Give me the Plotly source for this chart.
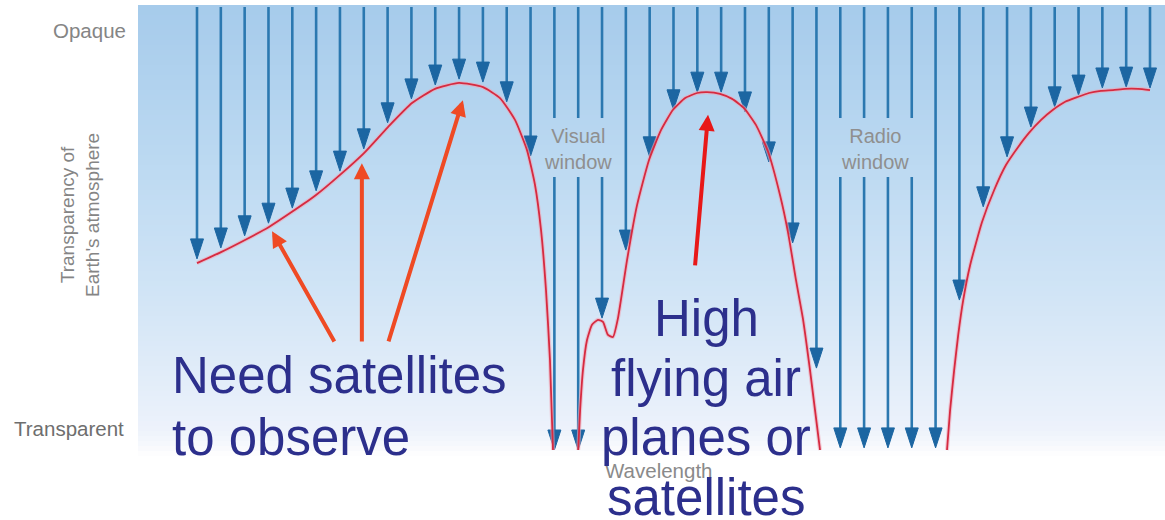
import plotly.graph_objects as go
import numpy as np

# ---------------- data ----------------
# incoming radiation arrows: index along wavelength axis, and depth reached (0 = ground / transparent, 1 = opaque)
arrow_idx = list(range(41))
arrow_depth = [0.455, 0.481, 0.510, 0.540, 0.576, 0.617, 0.664, 0.717, 0.779, 0.836,
               0.869, 0.883, 0.876, 0.829, 0.700, 0.0, 0.0, 0.314, 0.476, 0.698,
               0.810, 0.852, 0.852, 0.805, 0.686, 0.493, 0.195, 0.005, 0.005, 0.005,
               0.005, 0.005, 0.357, 0.579, 0.698, 0.769, 0.817, 0.845, 0.862, 0.864, 0.862]
window_gap_idx = [15, 16, 17, 27, 28, 29, 30]   # arrows interrupted by the window labels

# transparency curve (three segments), x in wavelength-index units, y in opacity units
curve1_x = [0.0, 1.007, 2.015, 3.022, 3.987, 4.995, 6.002, 7.009, 8.017, 9.024, 9.990,
            10.997, 12.004, 12.718, 13.347, 13.851, 14.187, 14.439, 14.648, 14.816, 14.942]
curve1_y = [0.445, 0.471, 0.500, 0.531, 0.567, 0.607, 0.655, 0.707, 0.769, 0.826, 0.860,
            0.874, 0.864, 0.838, 0.786, 0.714, 0.631, 0.524, 0.381, 0.214, 0.0]
curve2_x = [16.0, 16.08, 16.20, 16.37, 16.58, 16.83, 17.04, 17.25, 17.46, 17.67, 18.05, 18.47,
            18.97, 19.48, 19.98, 20.49, 20.99, 21.41, 21.95, 22.46, 22.96, 23.46, 23.97,
            24.47, 24.81, 25.14, 25.44, 25.73, 25.94, 26.15]
curve2_y = [0.0, 0.095, 0.190, 0.262, 0.298, 0.310, 0.305, 0.274, 0.269, 0.314, 0.452, 0.583,
            0.690, 0.762, 0.810, 0.838, 0.850, 0.852, 0.848, 0.836, 0.814, 0.774, 0.710,
            0.607, 0.517, 0.405, 0.310, 0.190, 0.095, 0.0]
curve3_x = [31.48, 31.61, 31.78, 31.95, 32.16, 32.45, 32.95, 33.46, 33.96, 34.46, 34.92,
            35.43, 35.93, 36.44, 36.94, 37.44, 37.94, 38.45, 38.95, 39.50, 40.0]
curve3_y = [0.0, 0.095, 0.190, 0.274, 0.357, 0.440, 0.543, 0.619, 0.679, 0.721, 0.755,
            0.786, 0.810, 0.829, 0.840, 0.850, 0.855, 0.857, 0.860, 0.860, 0.857]

# labels
opaque_label = "Opaque"
transparent_label = "Transparent"
yaxis_title_lines = ["Transparency of", "Earth's atmosphere"]
xaxis_title = "Wavelength"
window_labels = [("Visual", "window", 15.99), ("Radio", "window", 28.46)]
need_lines = ["Need satellites", "to observe"]
high_lines = ["High", "flying air", "planes or", "satellites"]

# callout arrows: (tail x, tail y, head x, head y, colour)
callouts = [(5.80, 0.255, 3.15, 0.521, "#ef4a24"),
            (6.92, 0.255, 6.92, 0.683, "#ef4a24"),
            (8.02, 0.255, 11.16, 0.833, "#ef4a24"),
            (20.90, 0.436, 21.45, 0.798, "#e81818")]

# ---------------- scales ----------------
W, H = 1165, 520
X0_PX, DX_PX = 197.0, 23.825          # pixel of index 0 and pixels per index
Y0_PX, DY_PX = 450.0, 420.0           # pixel of opacity 0 and pixels per unit opacity
def px_to_x(p):
    return (p - X0_PX) / DX_PX
def py_to_y(p):
    return (Y0_PX - p) / DY_PX
x_range = [px_to_x(0), px_to_x(W)]
y_range = [py_to_y(H), py_to_y(0)]

fig = go.Figure()

# ---------------- background gradient ----------------
n_rows = 90
y_edges = np.linspace(py_to_y(456), py_to_y(5), n_rows + 1)
y_cent = (y_edges[:-1] + y_edges[1:]) / 2
x_edges = [px_to_x(138), px_to_x(W + 2)]
z = [[v] for v in y_cent]
zmin, zmax = py_to_y(456), py_to_y(5)
def nz(p):
    return (py_to_y(p) - zmin) / (zmax - zmin)
cs = [[0.0, "#ffffff"],
      [nz(446), "#f7f9fd"],
      [nz(430), "#edf2fb"],
      [nz(380), "#e2edf9"],
      [nz(300), "#d2e5f6"],
      [nz(150), "#bad8f1"],
      [1.0, "#a6cbeb"]]
fig.add_trace(go.Heatmap(x=x_edges, y=list(y_edges), z=z, colorscale=cs, zmin=zmin, zmax=zmax,
                         showscale=False, hoverinfo="skip"))

# ---------------- incoming arrows ----------------
top_y = py_to_y(7)
head_len = 20 / DY_PX
head_hw = 6.5 / DX_PX
gap_top, gap_bot = py_to_y(118), py_to_y(177)
lx, ly = [], []
hx, hy = [], []
for i, d in zip(arrow_idx, arrow_depth):
    end = d + head_len * 0.8
    if i in window_gap_idx:
        lx += [i, i, None, i, i, None]
        ly += [top_y, gap_top, None, gap_bot, end, None]
    else:
        lx += [i, i, None]
        ly += [top_y, end, None]
    hx += [i - head_hw, i + head_hw, i, i - head_hw, None]
    hy += [d + head_len, d + head_len, d, d + head_len, None]
fig.add_trace(go.Scatter(x=lx, y=ly, mode="lines", line=dict(color="#2b78b0", width=2.6),
                         hoverinfo="skip", showlegend=False))
fig.add_trace(go.Scatter(x=hx, y=hy, mode="lines", fill="toself", fillcolor="#1c66a2",
                         line=dict(color="#1c66a2", width=1), hoverinfo="skip", showlegend=False))

# ---------------- transparency curve ----------------
for cx, cy in [(curve1_x, curve1_y), (curve2_x, curve2_y), (curve3_x, curve3_y)]:
    fig.add_trace(go.Scatter(x=cx, y=cy, mode="lines", line=dict(color="#f0a8b8", width=4, shape="spline", smoothing=0.5),
                             hoverinfo="skip", showlegend=False, opacity=0.6))
    fig.add_trace(go.Scatter(x=cx, y=cy, mode="lines", line=dict(color="#d62a40", width=1.8, shape="spline", smoothing=0.5),
                             hoverinfo="skip", showlegend=False))

# ---------------- text ----------------
grey = "#858585"
small = dict(family="Liberation Sans", size=19, color=grey)
ann = []
ann.append(dict(x=px_to_x(128), y=py_to_y(30), text=opaque_label, xanchor="right", yanchor="middle",
                showarrow=False, font=dict(family="Liberation Sans", size=20.5, color=grey)))
ann.append(dict(x=px_to_x(126), y=py_to_y(428), text=transparent_label, xanchor="right", yanchor="middle",
                showarrow=False, font=dict(family="Liberation Sans", size=20.5, color="#6e6e6e")))
ann.append(dict(x=px_to_x(80), y=py_to_y(215), text="<br>".join(yaxis_title_lines), textangle=-90,
                xanchor="center", yanchor="middle", showarrow=False, font=small))
ann.append(dict(x=px_to_x(659), y=py_to_y(470), text=xaxis_title, xanchor="center", yanchor="middle",
                showarrow=False, font=dict(family="Liberation Sans", size=20.5, color="#8a8a8a")))
for l1, l2, xi in window_labels:
    ann.append(dict(x=xi, y=py_to_y(149), text=l1 + "<br>" + l2, xanchor="center", yanchor="middle",
                    showarrow=False, font=dict(family="Liberation Sans", size=20, color="#8f8f8f")))

navy = "#2c2f8c"
big = dict(family="Liberation Sans", size=51, color=navy)
for line, ypx in zip(need_lines, [375, 437]):
    ann.append(dict(x=px_to_x(170), y=py_to_y(ypx), text=line, xanchor="left", yanchor="middle",
                    showarrow=False, font=big))
for line, ypx in zip(high_lines, [318, 378, 437, 497]):
    ann.append(dict(x=px_to_x(706), y=py_to_y(ypx), text=line, xanchor="center", yanchor="middle",
                    showarrow=False, font=big))

for tx, ty, hx_, hy_, col in callouts:
    ann.append(dict(x=hx_, y=hy_, ax=tx, ay=ty, xref="x", yref="y", axref="x", ayref="y",
                    text="", showarrow=True, arrowhead=2, arrowsize=0.8, arrowwidth=4,
                    arrowcolor=col, standoff=0))

fig.update_layout(
    width=W, height=H, autosize=False,
    margin=dict(l=0, r=0, t=0, b=0),
    paper_bgcolor="white", plot_bgcolor="white",
    xaxis=dict(range=x_range, visible=False, fixedrange=True),
    yaxis=dict(range=y_range, visible=False, fixedrange=True),
    annotations=ann, showlegend=False,
)
fig.write_html("out.html", config={"displayModeBar": False},
               post_script="document.body.style.margin='0px';document.body.style.overflow='hidden';")
